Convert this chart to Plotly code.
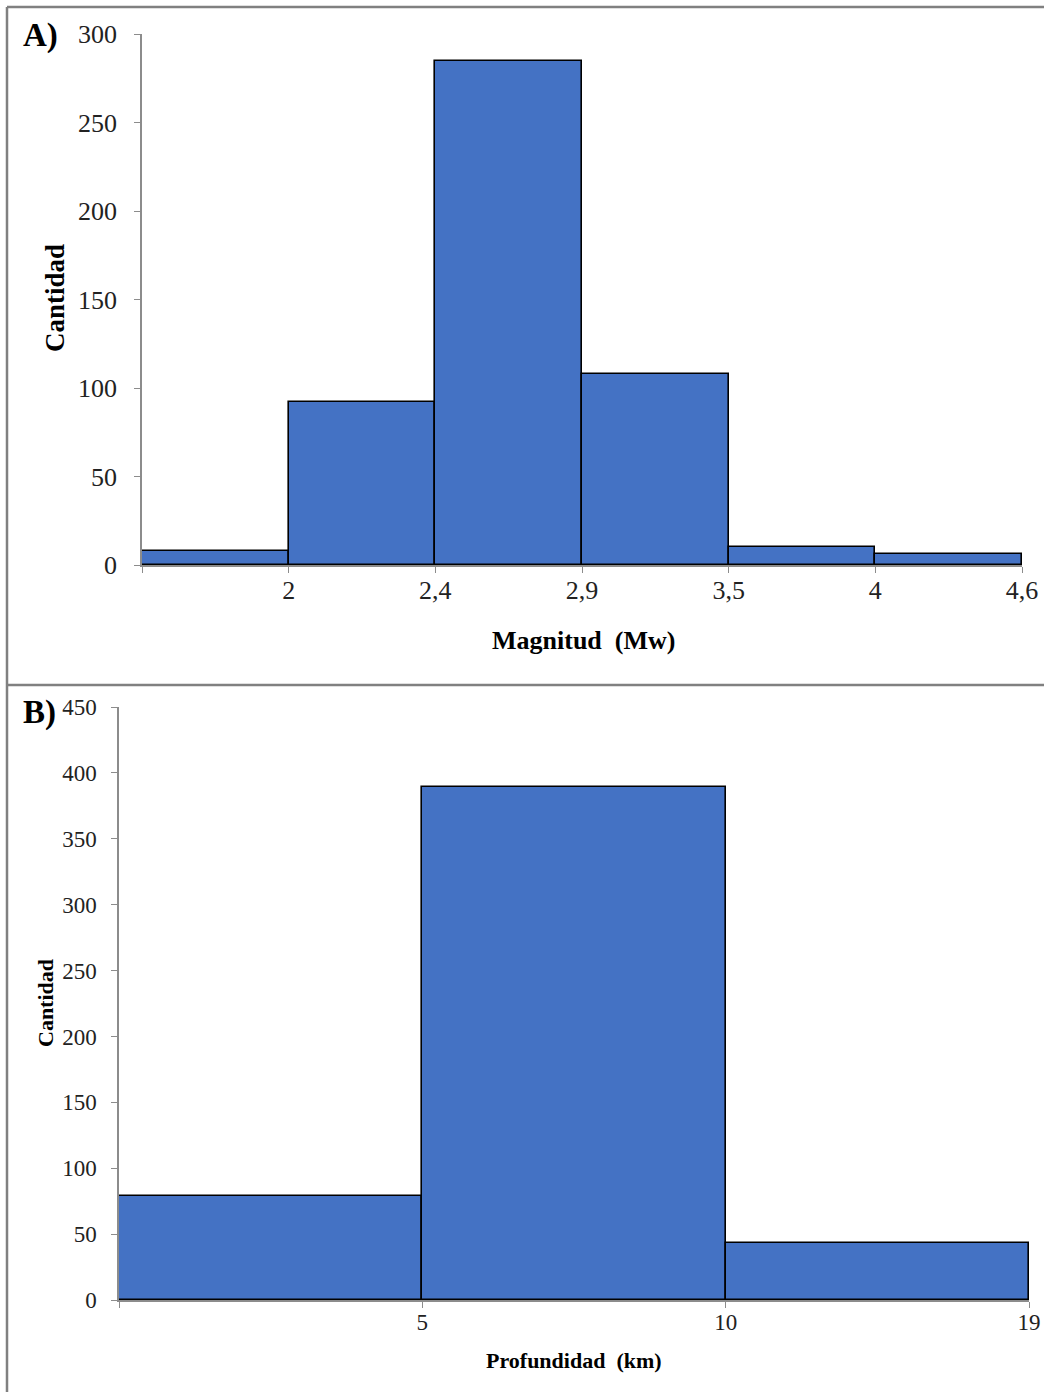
import plotly.graph_objects as go

W, H = 1044, 1392

# Panel A data
mag_labels = ["2", "2,4", "2,9", "3,5", "4", "4,6"]
mag_counts = [8, 92, 285, 108, 10, 6]

# Panel B data
dep_labels = ["5", "10", "19"]
dep_counts = [79, 389, 43]

BAR = "#4472C4"
AX = "#8c8c8c"
FONT = "Liberation Serif, Times New Roman, serif"

def px(x):
    return x / W

def py(y):
    return 1 - y / H

fig = go.Figure()

fig.add_trace(go.Bar(
    x=[i + 1 for i in range(len(mag_counts))], y=mag_counts, width=1,
    marker=dict(color=BAR, line=dict(color="black", width=1.6)),
    xaxis="x", yaxis="y", showlegend=False, hoverinfo="y"))
fig.add_trace(go.Bar(
    x=[i + 1 for i in range(len(dep_counts))], y=dep_counts, width=1,
    marker=dict(color=BAR, line=dict(color="black", width=1.6)),
    xaxis="x2", yaxis="y2", showlegend=False, hoverinfo="y"))

tick_common = dict(showline=True, linecolor=AX, linewidth=1.5, ticks="outside",
                   tickcolor=AX, ticklen=6, tickwidth=1.2, showgrid=False,
                   zeroline=False, fixedrange=True, automargin=False,
                   ticklabeloverflow="allow")

fig.update_layout(
    width=W, height=H, autosize=False,
    margin=dict(l=0, r=0, t=0, b=0, pad=0),
    paper_bgcolor="white", plot_bgcolor="white",
    bargap=0,
    font=dict(family=FONT, color="black"),
    xaxis=dict(domain=[px(142), px(1022)], range=[0.5, len(mag_counts) + 0.5],
               tickvals=[i + 0.5 for i in range(len(mag_counts) + 1)],
               ticktext=[""] + mag_labels, anchor="y", ticklabelstandoff=-5,
               tickfont=dict(size=26, family=FONT, color="#222"), **tick_common),
    yaxis=dict(domain=[py(565), py(34)], range=[0, 300], dtick=50, anchor="x",
               ticklabelstandoff=12,
               tickfont=dict(size=26, family=FONT, color="#222"), **tick_common),
    xaxis2=dict(domain=[px(119), px(1029)], range=[0.5, len(dep_counts) + 0.5],
                tickvals=[i + 0.5 for i in range(len(dep_counts) + 1)],
                ticktext=[""] + dep_labels, anchor="y2", ticklabelstandoff=-5,
                tickfont=dict(size=23, family=FONT, color="#222"), **tick_common),
    yaxis2=dict(domain=[py(1300), py(707)], range=[0, 450], dtick=50, anchor="x2",
                ticklabelstandoff=10,
                tickfont=dict(size=23, family=FONT, color="#222"), **tick_common),
)

line = dict(color="#808080", width=2.5)
fig.add_shape(type="line", xref="paper", yref="paper", x0=px(7), x1=1, y0=py(7), y1=py(7), line=line)
fig.add_shape(type="line", xref="paper", yref="paper", x0=px(7), x1=1, y0=py(685), y1=py(685), line=line)
fig.add_shape(type="line", xref="paper", yref="paper", x0=px(7), x1=px(7), y0=py(7), y1=0, line=line)

def ann(text, x, y, size, angle=0, bold=True):
    fig.add_annotation(text=f"<b>{text}</b>" if bold else text, xref="paper", yref="paper",
                       x=px(x), y=py(y), showarrow=False, textangle=angle,
                       font=dict(family=FONT, size=size, color="black"),
                       xanchor="center", yanchor="middle")

ann("A)", 40, 35, 33)
ann("B)", 39, 712, 33)
ann("Cantidad", 55, 298, 27, angle=-90)
ann("Magnitud  (Mw)", 583, 640, 26)
ann("Cantidad", 45, 1003, 22, angle=-90)
ann("Profundidad  (km)", 574, 1360, 22)

fig.write_html("out.html", config={"responsive": False, "displayModeBar": False},
               post_script="document.body.style.margin='0';document.body.style.overflow='hidden';")
